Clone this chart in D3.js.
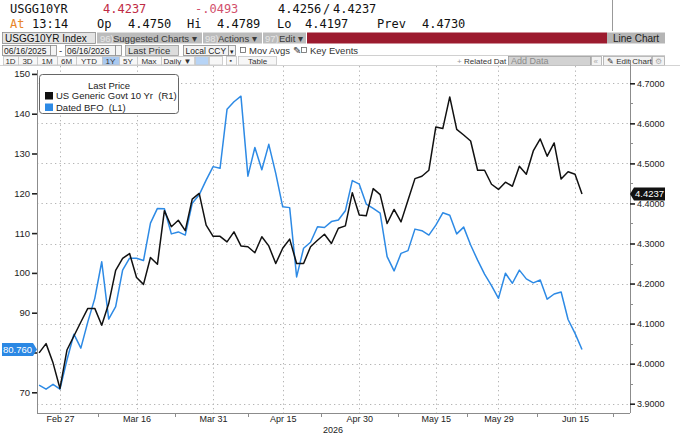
<!DOCTYPE html>
<html>
<head>
<meta charset="utf-8">
<script src="https://cdn.jsdelivr.net/npm/d3@7"></script>
<style>
  body { margin: 0; background: #fff; }
  svg { display: block; }
</style>
</head>
<body>
<script>
// Business days shown on the chart (Good Friday and Memorial Day are missing)
const dates = [
  "2026-02-24","2026-02-25","2026-02-26","2026-02-27",
  "2026-03-02","2026-03-03","2026-03-04","2026-03-05","2026-03-06",
  "2026-03-09","2026-03-10","2026-03-11","2026-03-12","2026-03-13",
  "2026-03-16","2026-03-17","2026-03-18","2026-03-19","2026-03-20",
  "2026-03-23","2026-03-24","2026-03-25","2026-03-26","2026-03-27",
  "2026-03-30","2026-03-31","2026-04-01","2026-04-02",
  "2026-04-06","2026-04-07","2026-04-08","2026-04-09","2026-04-10",
  "2026-04-13","2026-04-14","2026-04-15","2026-04-16","2026-04-17",
  "2026-04-20","2026-04-21","2026-04-22","2026-04-23","2026-04-24",
  "2026-04-27","2026-04-28","2026-04-29","2026-04-30","2026-05-01",
  "2026-05-04","2026-05-05","2026-05-06","2026-05-07","2026-05-08",
  "2026-05-11","2026-05-12","2026-05-13","2026-05-14","2026-05-15",
  "2026-05-18","2026-05-19","2026-05-20","2026-05-21","2026-05-22",
  "2026-05-26","2026-05-27","2026-05-28","2026-05-29",
  "2026-06-01","2026-06-02","2026-06-03","2026-06-04","2026-06-05",
  "2026-06-08","2026-06-09","2026-06-10","2026-06-11","2026-06-12",
  "2026-06-15","2026-06-16"
];

// US Generic Govt 10 Yr (right axis)
const ust10 = [
  4.027, 4.050, 4.002, 3.938, 4.034, 4.069, 4.104, 4.138, 4.138, 4.096,
  4.150, 4.233, 4.263, 4.275, 4.215, 4.198, 4.265, 4.248, 4.382, 4.342,
  4.358, 4.332, 4.411, 4.425, 4.346, 4.318, 4.318, 4.304, 4.329, 4.294,
  4.292, 4.277, 4.317, 4.294, 4.250, 4.288, 4.311, 4.250, 4.250, 4.292,
  4.308, 4.323, 4.300, 4.338, 4.344, 4.427, 4.371, 4.369, 4.437, 4.422,
  4.350, 4.385, 4.354, 4.408, 4.462, 4.468, 4.483, 4.591, 4.587, 4.666,
  4.585, 4.571, 4.556, 4.483, 4.483, 4.448, 4.435, 4.453, 4.443, 4.493,
  4.473, 4.531, 4.561, 4.518, 4.551, 4.461, 4.479, 4.473, 4.4237
];

// Dated BFO (left axis)
const bfo = [
  71.8, 70.8, 72.0, 70.8, 78.1, 84.6, 81.1, 87.7, 93.6, 102.8,
  88.4, 91.5, 100.7, 103.7, 103.7, 103.1, 112.5, 116.2, 116.1, 109.8,
  110.3, 109.5, 117.5, 119.6, 123.3, 126.7, 126.3, 141.1, 143.0, 144.4,
  124.3, 131.5, 125.9, 132.3, 125.0, 116.6, 116.4, 99.0, 106.2, 107.7,
  111.6, 111.4, 112.9, 113.3, 115.6, 123.2, 122.3, 117.3, 116.2, 115.0,
  104.1, 100.5, 104.9, 105.6, 111.0, 110.6, 109.5, 112.0, 115.1, 114.5,
  109.8, 111.5, 107.0, 103.2, 99.7, 96.8, 93.6, 99.9, 97.4, 100.7,
  98.5, 97.5, 98.2, 93.4, 94.7, 95.2, 88.3, 84.8, 80.76
];

const tickDates = ["2026-02-27","2026-03-16","2026-03-31","2026-04-15","2026-04-30","2026-05-15","2026-05-29","2026-06-15"];
const tickLabels = ["Feb 27","Mar 16","Mar 31","Apr 15","Apr 30","May 15","May 29","Jun 15"];
const leftTicks = [70, 80, 90, 100, 110, 120, 130, 140, 150];
const rightTicks = [3.9, 4.0, 4.1, 4.2, 4.3, 4.4, 4.5, 4.6, 4.7];

const W = 680, H = 435;
const plot = {left: 37, right: 630, top: 66, bottom: 413};
const blue = "#2d8ae5", black = "#111";
const sans = "'Liberation Sans', Arial, sans-serif";
const mono = "'DejaVu Sans Mono', monospace";

const svg = d3.select("body").append("svg")
  .attr("width", W).attr("height", H)
  .style("font-family", sans);

// ---------- header ----------
const hdr = svg.append("g").style("font-family", mono).style("font-size", "12px");
function htext(x, y, t, col) {
  hdr.append("text").attr("x", x).attr("y", y).attr("fill", col || "#111").text(t);
}
htext(10, 13, "USGG10YR");
htext(103, 13, "4.4237", "#bf2b45");
htext(195, 13, "-.0493", "#d2506c");
htext(278, 13, "4.4256");
htext(323, 13, "/");
htext(333, 13, "4.4237");
htext(10, 28, "At", "#e8862a");
htext(32, 28, "13:14");
htext(97, 28, "Op");
htext(128, 28, "4.4750");
htext(187, 28, "Hi");
htext(217, 28, "4.4789");
htext(277, 28, "Lo");
htext(305, 28, "4.4197");
htext(377, 28, "Prev");
htext(422, 28, "4.4730");
svg.append("line").attr("x1", 612.5).attr("x2", 612.5).attr("y1", 0).attr("y2", 31)
  .attr("stroke", "#999");

// toolbar row 1
const tb = svg.append("g").style("font-size", "9.5px");
function box(x, y, w, h, fill, stroke) {
  tb.append("rect").attr("x", x).attr("y", y).attr("width", w).attr("height", h)
    .attr("fill", fill).attr("stroke", stroke || "none").attr("stroke-width", 0.8);
}
function btext(x, y, t, col, size) {
  return tb.append("text").attr("x", x).attr("y", y).attr("fill", col || "#222")
    .style("font-size", size || null).text(t);
}
box(2.5, 32.5, 93, 11, "#e4e4e4", "#8a8a8a");
btext(5, 41.5, "USGG10YR Index", "#111", "10px");
box(97, 32.5, 105, 11, "#bcbcbc");
box(203, 32.5, 59, 11, "#bcbcbc");
box(263, 32.5, 43, 11, "#bcbcbc");
btext(100, 41.5, "96)", "#e6e6e6");
btext(113, 41.5, "Suggested Charts \u25be", "#3a3a3a");
btext(205, 41.5, "98)", "#e6e6e6");
btext(218, 41.5, "Actions \u25be", "#3a3a3a");
btext(265, 41.5, "97)", "#e6e6e6");
btext(279, 41.5, "Edit \u25be", "#3a3a3a");
box(307, 32.5, 300, 11, "#9c1b2f");
box(607, 32.5, 58, 11, "#b5b5b5");
btext(613, 41.5, "Line Chart", "#222", "10px");

// toolbar row 2
box(2.5, 45.5, 48, 10, "#f4f4f4", "#8a8a8a");
box(50.5, 45.5, 6, 10, "#f4f4f4", "#8a8a8a");
btext(4, 54, "06/16/2025", "#222", "8.5px");
btext(59, 54, "-", "#222");
box(65.5, 45.5, 50, 10, "#f4f4f4", "#8a8a8a");
box(115.5, 45.5, 6, 10, "#f4f4f4", "#8a8a8a");
btext(67, 54, "06/16/2026", "#222", "8.5px");
box(125.5, 45.5, 53, 10, "#dcdcdc", "#9a9a9a");
btext(128, 54, "Last Price", "#333");
box(183.5, 45.5, 45, 10, "#f4f4f4", "#8a8a8a");
box(228.5, 45.5, 7, 10, "#f4f4f4", "#8a8a8a");
btext(185.5, 54, "Local CCY", "#222", "8.5px");
btext(229.5, 53.5, "\u25be", "#222", "7px");
box(240.5, 47.5, 5, 5, "#fff", "#666");
btext(249, 54, "Mov Avgs \u270e", "#333");
box(301.5, 47.5, 5, 5, "#fff", "#666");
btext(310, 54, "Key Events", "#333");
svg.append("line").attr("x1", 340).attr("x2", 665).attr("y1", 55.5).attr("y2", 55.5)
  .attr("stroke", "#bbb").attr("stroke-width", 0.7);
btext(457, 63.5, "+", "#999", "8px");
btext(464, 63.5, "Related Dat", "#333", "8px");
box(508.5, 56.5, 82, 9, "#d2d2d2", "#999");
btext(511, 64, "Add Data", "#8a8a8a", "9px");
box(591.5, 56.5, 10, 9, "#f2f2f2", "#aaa");
btext(593.5, 63.5, "\u00ab", "#aaa", "8px");
box(603.5, 56.5, 48, 9, "#f2f2f2", "#aaa");
btext(607, 63.5, "\u270e Edit Chart", "#333", "8px");
box(652.5, 56.5, 12, 9, "#f2f2f2", "#aaa");
btext(655, 63.5, "\u2699", "#aaa", "8px");

// toolbar row 3 (range buttons)
const ranges = ["1D","3D","1M","6M","YTD","1Y","5Y","Max","Daily \u25bc"];
const rangeX = [3, 18, 37, 57, 76, 102, 119, 137, 161];
const rangeW = [15, 19, 20, 19, 26, 17, 18, 24, 33];
ranges.forEach(function(r, i) {
  box(rangeX[i] + 0.5, 56.5, rangeW[i], 8.5, r === "1Y" ? "#a9c9f0" : "#f7f7f7", "#c4c4c4");
  btext(rangeX[i] + rangeW[i] / 2, 63.5, r, "#333", "8px").attr("text-anchor", "middle");
});
box(195.5, 56.5, 13, 8.5, "#b7d4f6", "#c4c4c4");
box(209.5, 56.5, 13, 8.5, "#f7f7f7", "#c4c4c4");
box(226.5, 56.5, 10, 8.5, "#f7f7f7", "#c4c4c4");
btext(229.5, 63, "\u25aa", "#444", "7px");
box(238.5, 56.5, 38, 8.5, "#f7f7f7", "#c4c4c4");
btext(248, 63.5, "Table", "#333", "8px");
svg.append("line").attr("x1", 0).attr("x2", W).attr("y1", 65.5).attr("y2", 65.5)
  .attr("stroke", "#c8c8c8").attr("stroke-width", 0.8);

// ---------- scales ----------
const xi = d3.scaleLinear().domain([0, dates.length - 1]).range([39.1, 582]);
const xd = function(d) { return xi(dates.indexOf(d)); };
const yR = d3.scaleLinear().domain([3.9, 4.7]).range([403.7, 83.3]);
const yL = d3.scaleLinear().domain([70, 150]).range([392.3, 73.9]);

const g = svg.append("g");

// gridlines (dotted)
g.selectAll(".hgrid").data(rightTicks).enter().append("line")
  .attr("x1", plot.left).attr("x2", plot.right)
  .attr("y1", function(d) { return Math.round(yR(d)) + 0.5; })
  .attr("y2", function(d) { return Math.round(yR(d)) + 0.5; })
  .attr("stroke", "#b4b4b4").attr("stroke-dasharray", "1.3,3.2");
g.selectAll(".vgrid").data(tickDates).enter().append("line")
  .attr("x1", function(d) { return Math.round(xd(d)) + 0.5; })
  .attr("x2", function(d) { return Math.round(xd(d)) + 0.5; })
  .attr("y1", plot.top).attr("y2", plot.bottom)
  .attr("stroke", "#b4b4b4").attr("stroke-dasharray", "1.3,3.2");

// axis frame
g.append("line").attr("x1", plot.left + 0.5).attr("x2", plot.left + 0.5)
  .attr("y1", plot.top + 4).attr("y2", plot.bottom).attr("stroke", "#8c8c8c");
g.append("line").attr("x1", plot.right + 0.5).attr("x2", plot.right + 0.5)
  .attr("y1", plot.top - 6).attr("y2", plot.bottom).attr("stroke", "#8c8c8c");
g.append("line").attr("x1", plot.left).attr("x2", plot.right)
  .attr("y1", plot.bottom + 0.5).attr("y2", plot.bottom + 0.5).attr("stroke", "#8c8c8c");

// bottom axis
const xaxis = d3.axisBottom(xi)
  .tickValues(tickDates.map(function(d) { return dates.indexOf(d); }))
  .tickFormat(function(d, i) { return tickLabels[i]; })
  .tickSize(0).tickPadding(3);
const gx = svg.append("g").attr("transform", "translate(0," + plot.bottom + ")").call(xaxis);
gx.select(".domain").remove();
gx.selectAll("text").style("font-family", sans).style("font-size", "9px").attr("fill", "#222");

// minor ticks halfway between labelled dates
const tickIdx = tickDates.map(function(d) { return dates.indexOf(d); });
const minorIdx = [];
for (let i = 0; i < tickIdx.length - 1; i++) minorIdx.push((tickIdx[i] + tickIdx[i + 1]) / 2);
minorIdx.push(tickIdx[tickIdx.length - 1] + (tickIdx[tickIdx.length - 1] - tickIdx[tickIdx.length - 2]) / 2);
g.selectAll(".minx").data(minorIdx).enter().append("line")
  .attr("x1", function(d) { return Math.round(xi(d)) + 0.5; })
  .attr("x2", function(d) { return Math.round(xi(d)) + 0.5; })
  .attr("y1", plot.bottom).attr("y2", plot.bottom + 4)
  .attr("stroke", "#8c8c8c");

svg.append("text").attr("x", 333).attr("y", 432.5).attr("text-anchor", "middle")
  .style("font-size", "9px").attr("fill", "#222").text("2026");

const lastL = bfo[bfo.length - 1], lastR = ust10[ust10.length - 1];

// left axis (the label hidden behind the last-value tag is left out)
const yaxisL = d3.axisLeft(yL).tickValues(leftTicks).tickSize(5).tickPadding(2)
  .tickFormat(function(d) { return Math.abs(yL(d) - yL(lastL)) < 9 ? "" : d; });
const gl = svg.append("g").attr("transform", "translate(" + plot.left + ",0)").call(yaxisL);
gl.select(".domain").remove();
gl.selectAll("line").attr("stroke", "#222").attr("stroke-width", 1.6);
gl.selectAll("text").style("font-family", sans).style("font-size", "9.5px").attr("fill", "#222");

// right axis
const yaxisR = d3.axisRight(yR).tickValues(rightTicks).tickFormat(d3.format(".4f"))
  .tickSize(5).tickPadding(2);
const gr = svg.append("g").attr("transform", "translate(" + plot.right + ",0)").call(yaxisR);
gr.select(".domain").remove();
gr.selectAll("line").attr("stroke", "#222").attr("stroke-width", 1.6);
gr.selectAll("text").style("font-family", sans).style("font-size", "9px").attr("fill", "#222");
const minorR = rightTicks.slice(0, -1).map(function(d) { return d + 0.05; });
g.selectAll(".minr").data(minorR).enter().append("line")
  .attr("x1", plot.right).attr("x2", plot.right + 3)
  .attr("y1", function(d) { return Math.round(yR(d)) + 0.5; })
  .attr("y2", function(d) { return Math.round(yR(d)) + 0.5; })
  .attr("stroke", "#8c8c8c");

// ---------- lines ----------
svg.append("clipPath").attr("id", "clip").append("rect")
  .attr("x", plot.left).attr("y", plot.top).attr("width", plot.right - plot.left)
  .attr("height", plot.bottom - plot.top);

const lineL = d3.line().x(function(d, i) { return xi(i); }).y(function(d) { return yL(d); });
const lineR = d3.line().x(function(d, i) { return xi(i); }).y(function(d) { return yR(d); });

const lines = svg.append("g").attr("clip-path", "url(#clip)");
lines.append("path").datum(bfo).attr("d", lineL)
  .attr("fill", "none").attr("stroke", blue).attr("stroke-width", 1.5)
  .attr("stroke-linejoin", "round");
lines.append("path").datum(ust10).attr("d", lineR)
  .attr("fill", "none").attr("stroke", black).attr("stroke-width", 1.5)
  .attr("stroke-linejoin", "round");

// ---------- last value tags ----------
const tyL = yL(lastL);
svg.append("path")
  .attr("d", "M2," + (tyL - 6.5) + "H33L37," + tyL + "L33," + (tyL + 6.5) + "H2Z")
  .attr("fill", "#2b88e4");
svg.append("text").attr("x", 17.5).attr("y", tyL + 3.3).attr("text-anchor", "middle")
  .style("font-size", "9.5px").attr("fill", "#fff").text(d3.format(".3f")(lastL));

const tyR = yR(lastR);
svg.append("path")
  .attr("d", "M630," + tyR + "L634," + (tyR - 6.5) + "H665V" + (tyR + 6.5) + "H634Z")
  .attr("fill", "#111");
svg.append("text").attr("x", 649.5).attr("y", tyR + 3.3).attr("text-anchor", "middle")
  .style("font-size", "9.5px").attr("fill", "#fff").text(d3.format(".4f")(lastR));

// ---------- legend ----------
const lg = svg.append("g");
lg.append("rect").attr("x", 39.5).attr("y", 74.5).attr("width", 139).attr("height", 39)
  .attr("rx", 3).attr("fill", "#fff").attr("stroke", "#666");
lg.append("text").attr("x", 109).attr("y", 89).attr("text-anchor", "middle")
  .style("font-size", "9.5px").attr("fill", "#222").text("Last Price");
const legendItems = [
  {name: "US Generic Govt 10 Yr  (R1)", color: black},
  {name: "Dated BFO  (L1)", color: blue}
];
legendItems.forEach(function(it, i) {
  lg.append("rect").attr("x", 45).attr("y", 92 + i * 11.5).attr("width", 8).attr("height", 7.5)
    .attr("fill", it.color);
  lg.append("text").attr("x", 56).attr("y", 99.3 + i * 11.5)
    .style("font-size", "9.5px").style("white-space", "pre").attr("fill", "#222").text(it.name);
});
</script>
</body>
</html>
